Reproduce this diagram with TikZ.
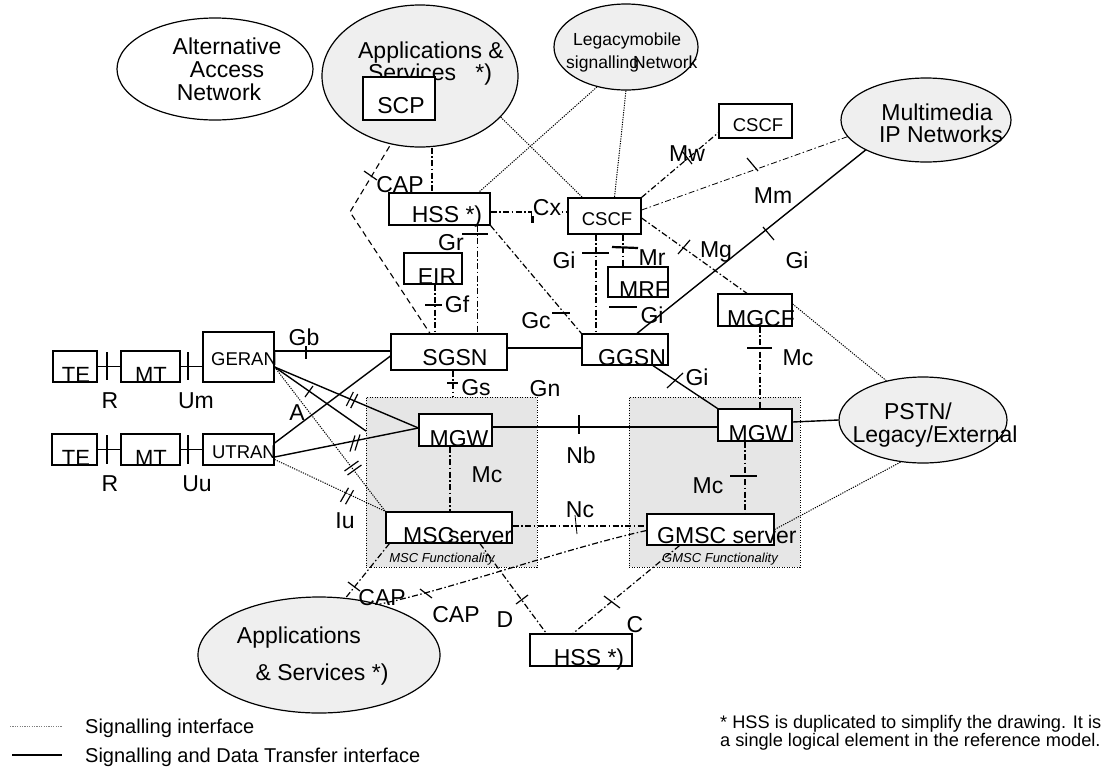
\documentclass[tikz,border=0pt]{standalone}
\usepackage{fontspec}
\setmainfont{Liberation Sans}
\usetikzlibrary{shapes.geometric,calc}
\definecolor{cloudgray}{HTML}{EFEFEF}
\definecolor{zonegray}{HTML}{E6E6E6}
\pgfdeclarelayer{zones}
\pgfdeclarelayer{lines}
\pgfsetlayers{zones,lines,main}

% double tick: centre (#1,#2), half tick vector (#3,#4), half spacing (#5,#6)
\newcommand\dtick[6]{%
  \draw[tk] ($(#1,#2)+(#5,#6)-(#3,#4)$) -- ($(#1,#2)+(#5,#6)+(#3,#4)$);
  \draw[tk] ($(#1,#2)-(#5,#6)-(#3,#4)$) -- ($(#1,#2)-(#5,#6)+(#3,#4)$);}

\begin{document}
\begin{tikzpicture}[x=1pt,y=-1pt,
  box/.style={draw, line width=1.2pt, fill=white, inner sep=0pt},
  cloud/.style={ellipse, draw, line width=1.2pt, fill=cloudgray, inner sep=0pt},
  zone/.style={draw, fill=zonegray, line width=0.8pt, dash pattern=on 1pt off 1.5pt, inner sep=0pt},
  sd/.style={line width=1.4pt},
  thk/.style={line width=2.6pt},
  dt/.style={line width=1pt, dash pattern=on 1.2pt off 1.2pt},
  dd/.style={line width=1.2pt, dash pattern=on 6pt off 2.5pt on 1.5pt off 2.5pt},
  ddt/.style={line width=0.8pt, dash pattern=on 6pt off 2.5pt on 1.5pt off 2.5pt},
  ds/.style={line width=1.1pt, dash pattern=on 6pt off 4pt},
  tk/.style={line width=1.2pt},
  tkb/.style={line width=2.2pt},
  t/.style={inner sep=0pt, anchor=base, font=\fontsize{23}{23}\selectfont},
  ts/.style={inner sep=0pt, anchor=base, font=\fontsize{18.5}{18.5}\selectfont},
  tl/.style={inner sep=0pt, anchor=base west, font=\fontsize{17.5}{17.5}\selectfont},
  ti/.style={inner sep=0pt, anchor=base, font=\fontsize{13}{13}\selectfont\itshape},
  tg/.style={inner sep=0pt, anchor=base west, font=\fontsize{20}{20}\selectfont},
  tf/.style={inner sep=0pt, anchor=base west, font=\fontsize{18.2}{18.2}\selectfont},
]
\useasboundingbox (0,0) rectangle (1119,769);

% functional zones
\begin{pgfonlayer}{zones}
\node[zone, minimum width=171pt, minimum height=170pt] (mscz) at (451.5,482) {};
\node[zone, minimum width=171pt, minimum height=170pt] (gmscz) at (714.5,482) {};
\end{pgfonlayer}

% networks
\node[cloud, fill=white, minimum width=196pt, minimum height=102pt] (aan) at (215,69) {};
\node[cloud, minimum width=196pt, minimum height=142pt] (apps1) at (420,76) {};
\node[cloud, minimum width=144pt, minimum height=86pt] (legacy) at (626,47) {};
\node[cloud, minimum width=170pt, minimum height=84pt] (mmip) at (926,120) {};
\node[cloud, minimum width=168pt, minimum height=86pt] (pstn) at (923,420) {};
\node[cloud, minimum width=242pt, minimum height=116pt] (apps2) at (319,655) {};

\node[t] (aan1) at (227,54) {Alternative};
\node[t] (aan2) at (227,77) {Access};
\node[t] (aan3) at (219,100) {Network};
\node[t] (ap1a) at (431,58) {Applications \&};
\node[t] (ap1b) at (430,80) {Services~~ *)};
\node[tl] (lg1) at (573,45) {Legacymobile};
\node[tl] (lg2) at (566,68) {signalling};
\node[tl] (lg3) at (633,68) {Network};
\node[t] (mm1) at (937,120) {Multimedia};
\node[t] (mm2) at (941,142) {IP Networks};
\node[t] (ps1) at (918,419) {PSTN/};
\node[t] (ps2) at (935,442) {Legacy/External};
\node[t] (ap2a) at (299,643) {Applications};
\node[t] (ap2b) at (322,680) {\& Services *)};

% network elements
\node[box, minimum width=72pt, minimum height=43pt] (scp) at (399,98.5) {};
\node[box, minimum width=44pt, minimum height=31pt] (te1) at (75,366.5) {};
\node[box, minimum width=59pt, minimum height=31pt] (mt1) at (150.5,366.5) {};
\node[box, minimum width=71pt, minimum height=50pt] (geran) at (238.5,357) {};
\node[box, minimum width=45pt, minimum height=31pt] (te2) at (74.5,449.5) {};
\node[box, minimum width=59pt, minimum height=31pt] (mt2) at (150.5,449.5) {};
\node[box, minimum width=71pt, minimum height=31pt] (utran) at (238.5,449.5) {};
\node[box, minimum width=116pt, minimum height=36pt] (sgsn) at (449,352) {};
\node[box, minimum width=101pt, minimum height=32pt] (hss1) at (439.5,209) {};
\node[box, minimum width=58pt, minimum height=31pt] (eir) at (433,268.5) {};
\node[box, minimum width=73pt, minimum height=36pt] (cscf1) at (604.5,216) {};
\node[box, minimum width=73pt, minimum height=34pt] (cscf2) at (755.5,121) {};
\node[box, minimum width=60pt, minimum height=30pt] (mrf) at (638,282) {};
\node[box, minimum width=86pt, minimum height=31pt] (ggsn) at (625,349.5) {};
\node[box, minimum width=74pt, minimum height=32pt] (mgcf) at (755,310) {};
\node[box, minimum width=73pt, minimum height=32pt] (mgw1) at (455.5,430) {};
\node[box, minimum width=74pt, minimum height=32pt] (mgw2) at (755,425) {};
\node[box, minimum width=126pt, minimum height=31pt] (msc) at (449,527.5) {};
\node[box, minimum width=127pt, minimum height=31pt] (gmsc) at (710.5,529.5) {};
\node[box, minimum width=102pt, minimum height=32pt] (hss2) at (581,650) {};

\coordinate (aend) at (366,431);
\coordinate (kink) at (350,212);
\coordinate (gsend) at (453,397);

\begin{pgfonlayer}{lines}
% signalling and data transfer interfaces
\draw[sd] (te1.east) -- (mt1.west);
\draw[sd] (mt1.east) -- ($(geran.west)+(0,9.5)$);
\draw[sd] (te2.east) -- (mt2.west);
\draw[sd] (mt2.east) -- (utran.west);
\draw[sd] ($(geran.east)+(0,-6)$) -- ($(sgsn.west)+(0,-1)$);
\draw[sd] ($(utran.east)+(0,-6.5)$) -- ($(sgsn.west)+(0,4)$);
\draw[sd] ($(geran.east)+(0,10)$) -- ($(mgw1.west)+(0,-2)$);
\draw[sd] ($(geran.east)+(0,10)$) -- (aend);
\draw[sd] ($(utran.east)+(0,7.5)$) -- ($(mgw1.west)+(0,-2)$);
\draw[thk] ($(sgsn.east)+(0,-4)$) -- ($(ggsn.west)+(0,-1.5)$);
\draw[sd] ($(ggsn.north)+(12,0)$) -- (mmip.south west);
\draw[sd] ($(ggsn.south)+(28,0)$) -- (mgw2.north west);
\draw[line width=2.2pt] ($(mgw1.east)+(0,-3)$) -- ($(mgw2.west)+(0,2)$);
\draw[sd] ($(mgw2.east)+(0,-3)$) -- (pstn.west);

% signalling interfaces
\draw[dt] ($(geran.east)+(0,10)$) -- (msc.north west);
\draw[dt] ($(utran.east)+(0,10)$) -- (msc.north west);
\draw[dt] (apps1.-27) -- ($(cscf1.north west)+(15,0)$);
\draw[dt] (legacy.-126) -- ($(hss1.north east)+(-12,0)$);
\draw[dt] (legacy.south) -- ($(cscf1.north)+(10,0)$);
\draw[dt] ($(mgcf.east)+(0,-6)$) -- (pstn.133);
\draw[dt] (gmsc.east) -- (pstn.-118);

\draw[dd] ($(apps1.south)+(12,0)$) -- ($(hss1.north)+(-7.5,0)$);
\draw[ds] ($(scp.south)+(6,0)$) -- (kink) -- ($(sgsn.north)+(-19,0)$);
\draw[dd] ($(hss1.east)+(0,3)$) -- ($(cscf1.west)+(0,-4)$);
\draw[dd] (hss1.south east) -- (ggsn.north west);
\draw[ddt] ($(hss1.south east)+(-13,0)$) -- ($(sgsn.north east)+(-30,0)$);
\draw[dd] ($(eir.south)+(2,0)$) -- ($(sgsn.north)+(-14,0)$);
\draw[dd] ($(sgsn.south)+(4,0)$) -- (gsend);
\draw[dd] (cscf1.north east) -- ($(cscf2.south west)+(0,-6)$);
\draw[ddt] ($(cscf1.east)+(0,-6)$) -- (mmip.192);
\draw[dd] ($(cscf1.east)+(0,2)$) -- ($(mgcf.north)+(-8,0)$);
\draw[dd] ($(cscf1.south)+(-8.5,0)$) -- ($(ggsn.north)+(-29,0)$);
\draw[dd] ($(cscf1.south)+(18.5,0)$) -- ($(mrf.north)+(-15,0)$);
\draw[dd] ($(mgcf.south)+(5,0)$) -- ($(mgw2.north)+(5,0)$);
\draw[dd] ($(mgw1.south)+(-5.5,0)$) -- ($(msc.north)+(1,0)$);
\draw[dd] ($(mgw2.south)+(-10,0)$) -- ($(gmsc.north)+(34.5,0)$);
\draw[dd] ($(msc.east)+(0,-1.5)$) -- ($(gmsc.west)+(0,-3.5)$);
\draw[dd] ($(gmsc.west)+(0,1)$) .. controls (560,550) and (455,588) .. (apps2.40);
\draw[dd] ($(msc.south west)+(4,0)$) -- (apps2.65);
\draw[dd] ($(msc.south)+(31,0)$) -- ($(hss2.north west)+(17,0)$);
\draw[dd] ($(gmsc.south)+(-31,0)$) -- ($(hss2.north)+(-8,0)$);

% interface ticks
\draw[tk] (107,352) -- (107,380);
\draw[tk] (188,352) -- (188,380);
\draw[tk] (107,435) -- (107,464);
\draw[tk] (188,435) -- (188,464);
\draw[tk] (306,346) -- (306,359);
\draw[tk] (305,397) -- (313,386);
\dtick{352}{400}{3.5}{-7}{2.2}{1}
\dtick{355}{443}{2.5}{-8}{2.5}{-0.5}
\dtick{353}{468}{7}{-5}{1.5}{2}
\dtick{347}{496}{4}{-7}{2.5}{1.2}
\draw[tk] (364,171) -- (377,180);
\draw[line width=3pt] (532,213) -- (532,223);
\draw[tk] (462,234) -- (488,234);
\draw[line width=1.7pt] (425,305) -- (442,305);
\draw[tk] (552,313) -- (570,313);
\draw[tk] (582,253) -- (609,253);
\draw[tkb] (612,247) -- (638,248);
\draw[tk] (609,307) -- (637,307);
\draw[tk] (682,151) -- (692,164);
\draw[tk] (747,158) -- (758,171);
\draw[tk] (678,254) -- (690,240);
\draw[tk] (763,227) -- (774,240);
\draw[tk] (667,388) -- (683,373);
\draw[tkb] (747,348) -- (772,348);
\draw[tk] (447,383) -- (458,383);
\draw[tk] (579,415) -- (579,434);
\draw[tk] (730,476) -- (757,476);
\draw[line width=0.8pt] (575,515) -- (577,534);
\draw[tk] (348,582) -- (360,591);
\draw[tk] (420,589) -- (432,598);
\draw[tk] (516,604) -- (528,595);
\draw[tk] (604,596) -- (620,608);
\end{pgfonlayer}

% element names
\node[t] (tscp) at (401,113) {SCP};
\node[inner sep=0pt, anchor=base, font=\fontsize{22}{22}\selectfont] (tte1) at (76,382) {TE};
\node[inner sep=0pt, anchor=base, font=\fontsize{22}{22}\selectfont] (tmt1) at (151,382) {MT};
\node[inner sep=0pt, anchor=base, font=\fontsize{22}{22}\selectfont] (tte2) at (76,465) {TE};
\node[inner sep=0pt, anchor=base, font=\fontsize{22}{22}\selectfont] (tmt2) at (151,465) {MT};
\node[ts] (tgeran) at (244,365) {GERAN};
\node[ts] (tutran) at (244,458) {UTRAN};
\node[t] (tsgsn) at (455,365) {SGSN};
\node[t] (thss1) at (447,222) {HSS *)};
\node[t] (teir) at (437,284) {EIR};
\node[ts] (tcscf1) at (607,225) {CSCF};
\node[ts] (tcscf2) at (758,131) {CSCF};
\node[t] (tmrf) at (644,297) {MRF};
\node[t] (tggsn) at (632,365) {GGSN};
\node[t] (tmgcf) at (761,326) {MGCF};
\node[t] (tmgw1) at (459,446) {MGW};
\node[t] (tmgw2) at (758,441) {MGW};
\node[t, anchor=base west] (tmsc) at (403,543) {MSC};
\node[t, anchor=base west] (tserver) at (448,543) {server};
\node[t, anchor=base west] (tgmsc) at (657,543) {GMSC server};
\node[t] (thss2) at (589,665) {HSS *)};
\node[ti] (zl1) at (442,562) {MSC Functionality};
\node[ti] (zl2) at (720,562) {GMSC Functionality};

% interface names
\node[t] (lR1) at (110,408) {R};
\node[t] (lUm) at (196,408) {Um};
\node[t] (lR2) at (110,491) {R};
\node[t] (lUu) at (197,491) {Uu};
\node[t] (lGb) at (304,345) {Gb};
\node[t] (lA) at (297,420) {A};
\node[t] (lIu) at (345,528) {Iu};
\node[t] (lCAP1) at (400,192) {CAP};
\node[t, fill=white, inner sep=1pt] (lCx) at (547,215) {Cx};
\node[t] (lGr) at (451,250) {Gr};
\node[t] (lGf) at (457,312) {Gf};
\node[t] (lGi1) at (564,268) {Gi};
\node[t] (lMr) at (652,265) {Mr};
\node[t] (lGi2) at (652,323) {Gi};
\node[t] (lGc) at (536,328) {Gc};
\node[t] (lMw) at (687,161) {Mw};
\node[t] (lMm) at (773,203) {Mm};
\node[t] (lMg) at (716,257) {Mg};
\node[t] (lGi3) at (797,268) {Gi};
\node[t] (lMc1) at (798,365) {Mc};
\node[t] (lGi4) at (697,385) {Gi};
\node[t] (lGs) at (476,395) {Gs};
\node[t] (lGn) at (545,396) {Gn};
\node[t] (lNb) at (581,463) {Nb};
\node[t] (lMc2) at (487,482) {Mc};
\node[t] (lMc3) at (708,493) {Mc};
\node[t] (lNc) at (580,517) {Nc};
\node[t] (lCAP2) at (382,605) {CAP};
\node[t] (lCAP3) at (456,622) {CAP};
\node[t] (lD) at (505,627) {D};
\node[t] (lC) at (635,632) {C};

% legend
\coordinate (k1a) at (10,726);
\coordinate (k1b) at (62,726);
\coordinate (k2a) at (12,755);
\coordinate (k2b) at (62,755);
\draw[dt, gray, line width=0.8pt] (k1a) -- (k1b);
\draw[sd] (k2a) -- (k2b);
\node[tg] (key1) at (85,733) {Signalling interface};
\node[tg] (key2) at (85,762) {Signalling and Data Transfer interface};
\node[tf] (note1) at (720,728) {* HSS is duplicated to simplify the drawing. It is};
\node[tf] (note2) at (720,746) {a single logical element in the reference model.};
\end{tikzpicture}
\end{document}
